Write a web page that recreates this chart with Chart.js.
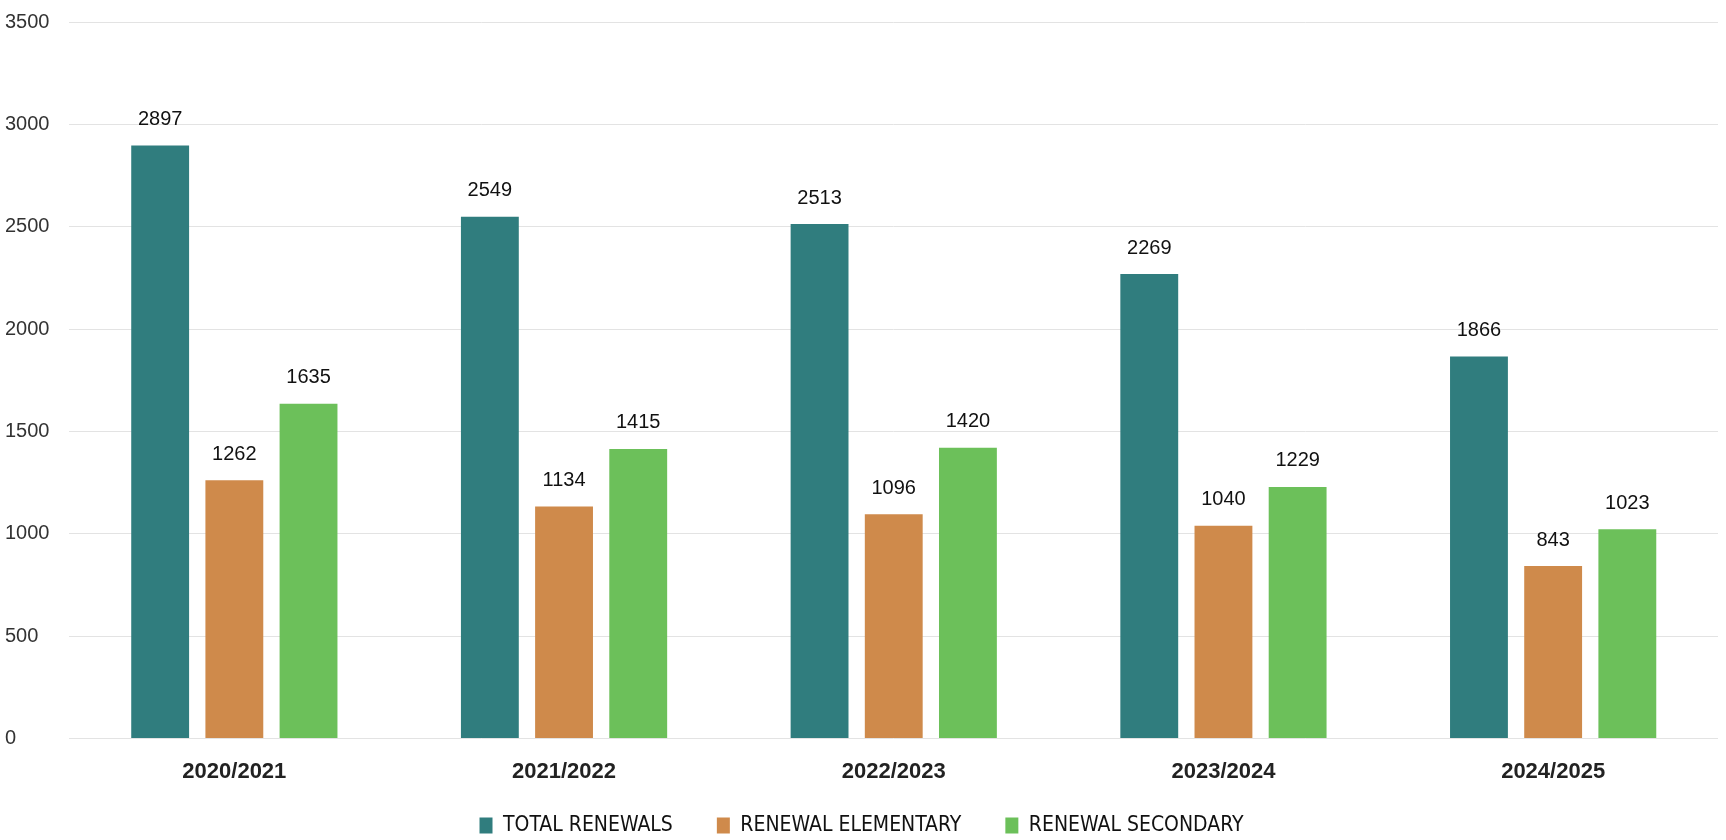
<!DOCTYPE html>
<html>
<head>
<meta charset="utf-8">
<script src="https://cdn.jsdelivr.net/npm/chart.js@4"></script>
<style>
  body { margin: 0; background: #fff; overflow: hidden; }
  #wrap { width: 1726px; height: 840px; }
</style>
</head>
<body>
<div id="wrap"><canvas id="grafico-renovacoes"></canvas></div>
<script>
const years = ['2020/2021', '2021/2022', '2022/2023', '2023/2024', '2024/2025'];
const totalRenewals = [2897, 2549, 2513, 2269, 1866];
const renewalElementary = [1262, 1134, 1096, 1040, 843];
const renewalSecondary = [1635, 1415, 1420, 1229, 1023];

// draws the number above each bar
const valueLabels = {
  id: 'valueLabels',
  afterDatasetsDraw(chart) {
    const ctx = chart.ctx;
    ctx.save();
    ctx.font = '20px "Liberation Sans", Arial, sans-serif';
    ctx.fillStyle = '#111';
    ctx.textAlign = 'center';
    ctx.textBaseline = 'middle';
    chart.data.datasets.forEach(function(ds, i) {
      chart.getDatasetMeta(i).data.forEach(function(bar, j) {
        ctx.fillText(ds.data[j], bar.x, bar.y - 26);
      });
    });
    ctx.restore();
  }
};

// legend padding is also the gap between items; take back part of the space it adds above the row
const tightLegend = {
  id: 'tightLegend',
  afterInit(chart) {
    const legend = chart.legend;
    if (!legend) return;
    const fit = legend.fit;
    const draw = legend.draw;
    legend.fit = function() {
      fit.call(this);
      this.height -= 32;
    };
    legend.draw = function() {
      this.top -= 26;
      draw.call(this);
      this.top += 26;
    };
  }
};

document.addEventListener('DOMContentLoaded', function() {
  const ctx = document.getElementById('grafico-renovacoes').getContext('2d');
  const chart = new Chart(ctx, {
    type: 'bar',
    data: {
      labels: years,
      datasets: [{
        label: 'TOTAL RENEWALS',
        data: totalRenewals,
        backgroundColor: '#307d7e'
      }, {
        label: 'RENEWAL ELEMENTARY',
        data: renewalElementary,
        backgroundColor: '#cf8a4b'
      }, {
        label: 'RENEWAL SECONDARY',
        data: renewalSecondary,
        backgroundColor: '#6cc05a'
      }]
    },
    options: {
      responsive: true,
      maintainAspectRatio: false,
      animation: false,
      categoryPercentage: 0.675,
      barPercentage: 0.78,
      layout: { padding: { left: 5, right: 8, top: 10, bottom: 0 } },
      plugins: {
        tooltip: { enabled: false },
        legend: {
          position: 'bottom',
          labels: {
            boxWidth: 13,
            boxHeight: 16,
            padding: 44,
            color: '#111',
            font: { family: '"DejaVu Sans Condensed", "Liberation Sans Narrow", sans-serif', size: 21 }
          }
        }
      },
      scales: {
        x: {
          grid: { display: false },
          border: { display: false },
          ticks: {
            color: '#222',
            padding: 12,
            font: { family: '"Liberation Sans", Arial, sans-serif', size: 22, weight: 'bold' }
          }
        },
        y: {
          min: 0,
          max: 3500,
          border: { display: false },
          grid: { color: '#e3e3e3', drawTicks: false },
          ticks: {
            stepSize: 500,
            crossAlign: 'far',
            padding: 10,
            color: '#333',
            font: { family: '"Liberation Sans", Arial, sans-serif', size: 20 },
            callback: function(v) { return String(v); }
          }
        }
      }
    },
    plugins: [valueLabels, tightLegend]
  });
});
</script>
</body>
</html>
